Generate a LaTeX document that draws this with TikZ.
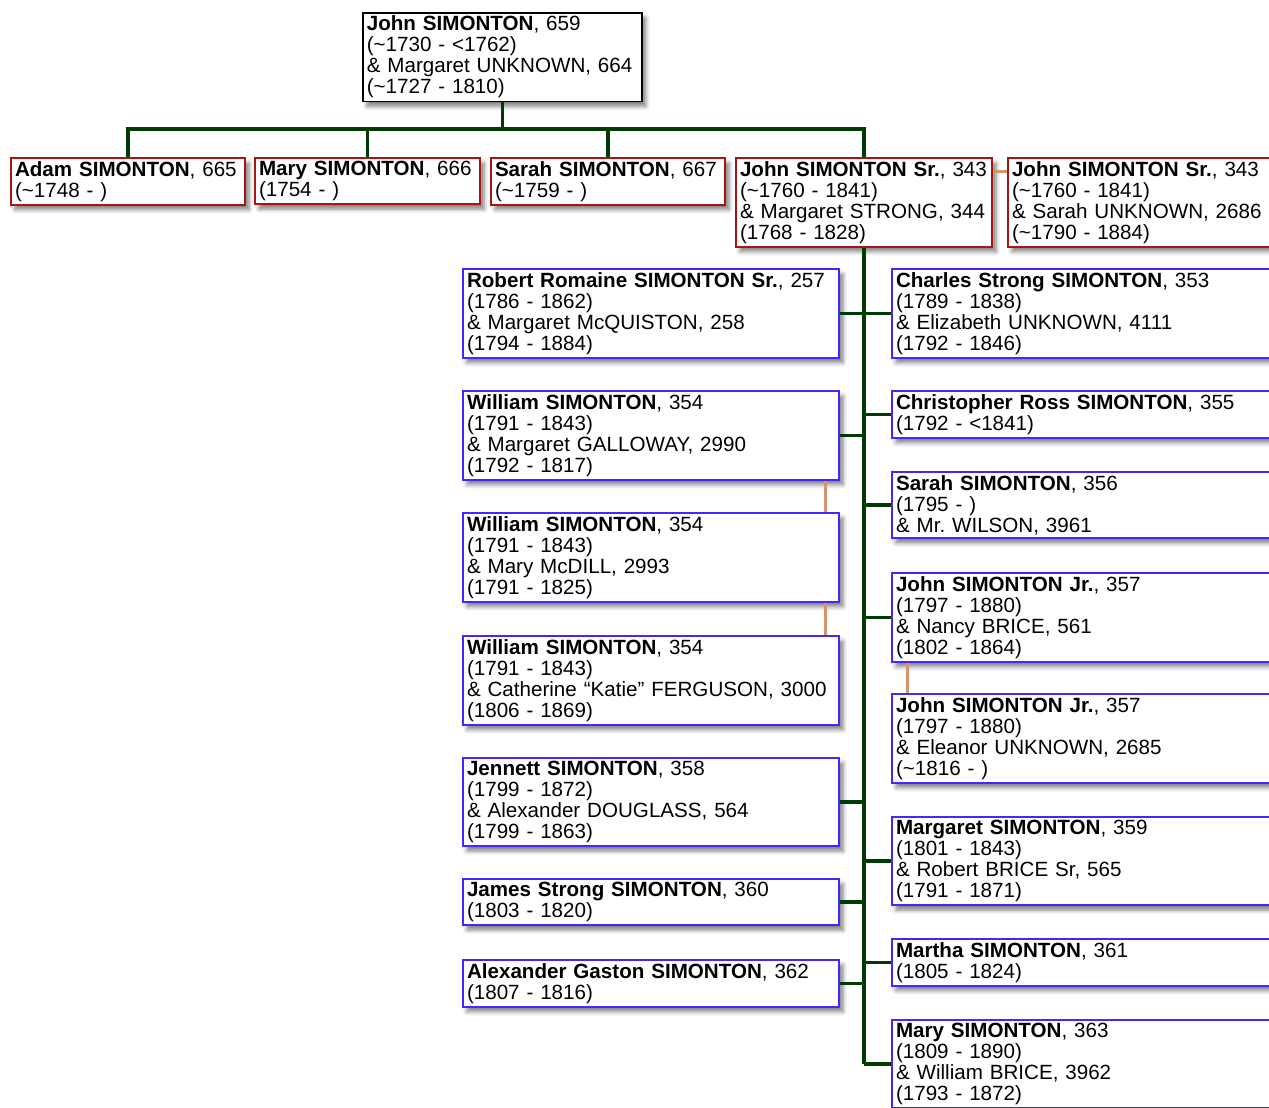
\documentclass[tikz,border=0pt]{standalone}
\usepackage{fontspec}
\setmainfont{Liberation Sans}
\usepackage{tikz}
\usetikzlibrary{shadows,shadows.blur}
\definecolor{kinline}{HTML}{003C00}
\definecolor{spouseline}{HTML}{D2966A}
\definecolor{redframe}{HTML}{AA1414}
\definecolor{blueframe}{HTML}{4028FF}
\newcommand{\who}[2]{\textbf{#1}, #2}
\newcommand{\ca}{\textasciitilde}

\begin{document}
\begin{tikzpicture}[x=0.5pt, y=-0.5pt,
    person/.style={draw, line width=1pt, fill=white, anchor=north west, align=left,
      inner xsep=2pt, inner ysep=1.6pt, font=\fontsize{10.3}{10.5}\selectfont,
      blur shadow={shadow xshift=2pt, shadow yshift=-2.5pt, shadow blur steps=5, shadow opacity=50}},
    rootbox/.style={person, draw=black, line width=0.8pt},
    redbox/.style={person, draw=redframe},
    bluebox/.style={person, draw=blueframe},
    kin/.style={kinline, line width=1.6pt},
    spouse/.style={spouseline, line width=1.5pt}]
    \clip (0,0) rectangle (1269,1108);

    % Parents
    \node[rootbox, text width=135.5pt] (root) at (362,12)
      {\who{John SIMONTON}{659}\\(\ca1730 - <1762)\\\& Margaret UNKNOWN, 664\\(\ca1727 - 1810)};

    % Children
    \node[redbox, text width=113pt] (adam) at (10,157) {\who{Adam SIMONTON}{665}\\(\ca1748 - )};
    \node[redbox, text width=108.5pt] (mary) at (254,157) {\who{Mary SIMONTON}{666}\\(1754 - )};
    \node[redbox, text width=113pt] (sarah) at (490,157) {\who{Sarah SIMONTON}{667}\\(\ca1759 - )};
    \node[redbox, text width=124pt] (johnsr) at (735,157)
      {\who{John SIMONTON Sr.}{343}\\(\ca1760 - 1841)\\\& Margaret STRONG, 344\\(1768 - 1828)};
    \node[redbox, text width=140pt] (johnsrb) at (1007,157)
      {\who{John SIMONTON Sr.}{343}\\(\ca1760 - 1841)\\\& Sarah UNKNOWN, 2686\\(\ca1790 - 1884)};

    % Grandchildren, left column
    \node[bluebox, text width=184pt] (robert) at (462,268)
      {\who{Robert Romaine SIMONTON Sr.}{257}\\(1786 - 1862)\\\& Margaret McQUISTON, 258\\(1794 - 1884)};
    \node[bluebox, text width=184pt] (willa) at (462,390)
      {\who{William SIMONTON}{354}\\(1791 - 1843)\\\& Margaret GALLOWAY, 2990\\(1792 - 1817)};
    \node[bluebox, text width=184pt] (willb) at (462,512)
      {\who{William SIMONTON}{354}\\(1791 - 1843)\\\& Mary McDILL, 2993\\(1791 - 1825)};
    \node[bluebox, text width=184pt] (willc) at (462,635)
      {\who{William SIMONTON}{354}\\(1791 - 1843)\\\& Catherine “Katie” FERGUSON, 3000\\(1806 - 1869)};
    \node[bluebox, text width=184pt] (jennett) at (462,757)
      {\who{Jennett SIMONTON}{358}\\(1799 - 1872)\\\& Alexander DOUGLASS, 564\\(1799 - 1863)};
    \node[bluebox, text width=184pt] (james) at (462,878) {\who{James Strong SIMONTON}{360}\\(1803 - 1820)};
    \node[bluebox, text width=184pt] (alex) at (462,959) {\who{Alexander Gaston SIMONTON}{362}\\(1807 - 1816)};

    % Grandchildren, right column
    \node[bluebox, text width=195pt] (charles) at (891,268)
      {\who{Charles Strong SIMONTON}{353}\\(1789 - 1838)\\\& Elizabeth UNKNOWN, 4111\\(1792 - 1846)};
    \node[bluebox, text width=195pt] (chris) at (891,390) {\who{Christopher Ross SIMONTON}{355}\\(1792 - <1841)};
    \node[bluebox, text width=195pt] (sarahb) at (891,471)
      {\who{Sarah SIMONTON}{356}\\(1795 - )\\\& Mr.\ WILSON, 3961};
    \node[bluebox, text width=195pt] (johnjr) at (891,572)
      {\who{John SIMONTON Jr.}{357}\\(1797 - 1880)\\\& Nancy BRICE, 561\\(1802 - 1864)};
    \node[bluebox, text width=195pt] (johnjrb) at (891,693)
      {\who{John SIMONTON Jr.}{357}\\(1797 - 1880)\\\& Eleanor UNKNOWN, 2685\\(\ca1816 - )};
    \node[bluebox, text width=195pt] (margaret) at (891,816)
      {\who{Margaret SIMONTON}{359}\\(1801 - 1843)\\\& Robert BRICE Sr, 565\\(1791 - 1871)};
    \node[bluebox, text width=195pt] (martha) at (891,938) {\who{Martha SIMONTON}{361}\\(1805 - 1824)};
    \node[bluebox, text width=195pt] (maryb) at (891,1019)
      {\who{Mary SIMONTON}{363}\\(1809 - 1890)\\\& William BRICE, 3962\\(1793 - 1872)};

    % Family lines
    \coordinate (bar) at (0,129);
    \draw[kin] (root.south) -- (root.south |- bar);
    \draw[kin] (adam.north) |- (johnsr.north |- bar) -- (johnsr.north);
    \draw[kin] (mary.north) -- (mary.north |- bar);
    \draw[kin] (sarah.north) -- (sarah.north |- bar);
    \draw[kin] (johnsr.south) -- (johnsr.south |- maryb.west);
    \foreach \c in {robert,willa,jennett,james,alex}
      \draw[kin] (\c.east) -- (\c.east -| johnsr.south);
    \foreach \c in {charles,chris,sarahb,johnjr,margaret,martha,maryb}
      \draw[kin] (\c.west) -- (\c.west -| johnsr.south);

    % Same person, other marriage
    \draw[spouse] ([yshift=-7pt]johnsr.north east) -- ([yshift=-7pt]johnsrb.north west);
    \draw[spouse] ([xshift=-7.5pt]willa.south east) -- ([xshift=-7.5pt]willb.north east);
    \draw[spouse] ([xshift=-7.5pt]willb.south east) -- ([xshift=-7.5pt]willc.north east);
    \draw[spouse] ([xshift=8pt]johnjr.south west) -- ([xshift=8pt]johnjrb.north west);
\end{tikzpicture}
\end{document}
